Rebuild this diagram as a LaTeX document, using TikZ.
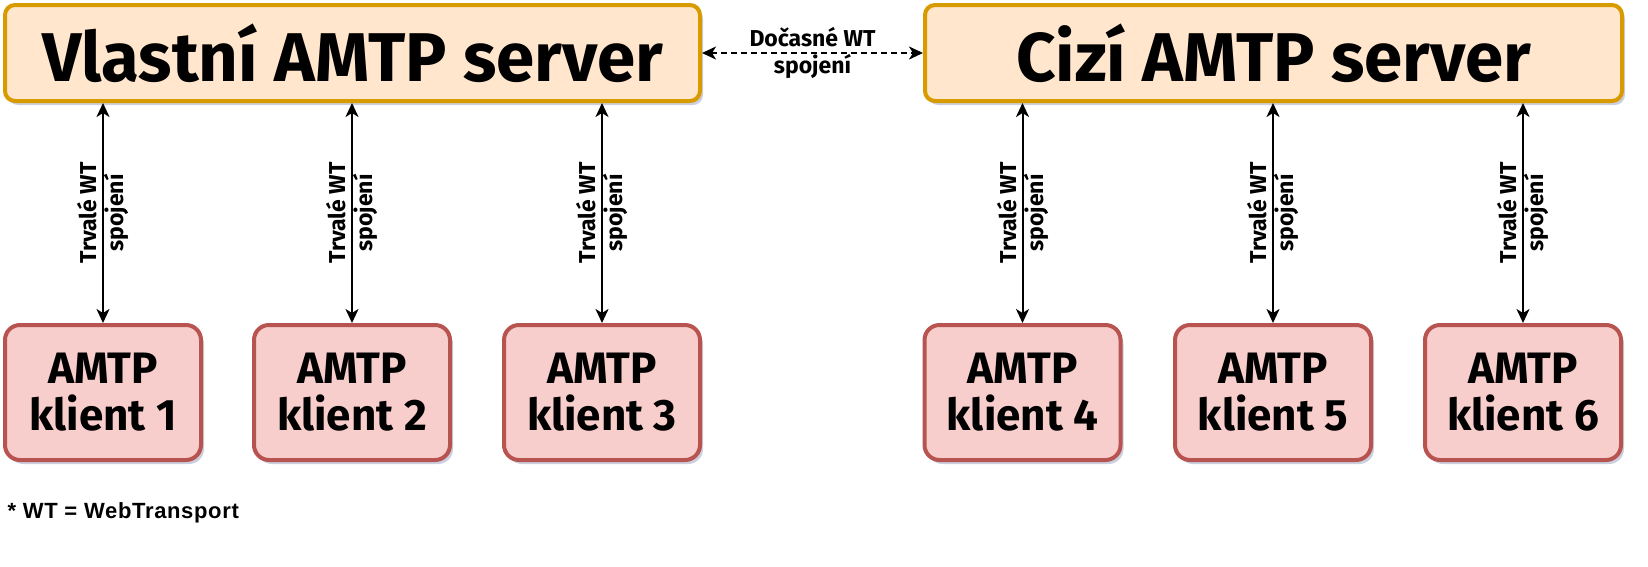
\documentclass[tikz,border=0pt]{standalone}
\usepackage{fontspec}
\setmainfont{Fira Sans}
\newfontfamily\arialfont[LetterSpace=3]{Liberation Sans}
\usetikzlibrary{shadows,arrows.meta}
\definecolor{srvfill}{HTML}{FFE6CC}
\definecolor{srvline}{HTML}{D79B00}
\definecolor{klfill}{HTML}{F8CECC}
\definecolor{klline}{HTML}{B85450}
\definecolor{stin}{HTML}{8C94B8}
\tikzset{
  server/.style={draw=srvline,fill=srvfill,line width=4pt,rounded corners=10pt,
    minimum height=96pt,inner sep=0pt,font=\bfseries\fontsize{69}{76}\selectfont,
    drop shadow={shadow xshift=3pt,shadow yshift=-4pt,fill=stin,opacity=0.45}},
  klient/.style={draw=klline,fill=klfill,line width=4pt,rounded corners=15pt,
    minimum width=196pt,minimum height=135pt,inner sep=0pt,align=center,
    font=\bfseries\fontsize{44}{47}\selectfont,
    drop shadow={shadow xshift=3pt,shadow yshift=-4pt,fill=stin,opacity=0.45}},
  popis/.style={font=\bfseries\fontsize{23}{27}\selectfont,align=center},
  spoj/.style={<->,line width=2pt}
}
\begin{document}
\begin{tikzpicture}[x=1pt,y=-1pt,>={Stealth[length=14pt,width=13pt,inset=4pt]}]
  \useasboundingbox (0,0) rectangle (1648,566);
  \node[server,minimum width=695pt] (vlastni) at (352.5,53) {Vlastní AMTP server};
  \node[server,minimum width=697pt] (cizi) at (1273.5,53) {Cizí AMTP server};
  \foreach \i/\x in {1/103,2/352,3/602,4/1022.5,5/1273,6/1523}
    \node[klient] (k\i) at (\x,392.5) {AMTP\\klient \i};
  \draw[spoj,dash pattern=on 6pt off 4pt] (vlastni.east) -- (cizi.west)
    node[midway,popis]{Dočasné WT\\spojení};
  \foreach \i in {1,2,3}
    \draw[spoj] (k\i.north |- vlastni.south) -- (k\i.north)
      node[midway,popis,rotate=90]{Trvalé WT\\spojení};
  \foreach \i in {4,5,6}
    \draw[spoj] (k\i.north |- cizi.south) -- (k\i.north)
      node[midway,popis,rotate=90]{Trvalé WT\\spojení};
  \node[anchor=west,font=\arialfont\bfseries\fontsize{22}{26}\selectfont] (pozn) at (4,513) {* WT = WebTransport};
\end{tikzpicture}
\end{document}
